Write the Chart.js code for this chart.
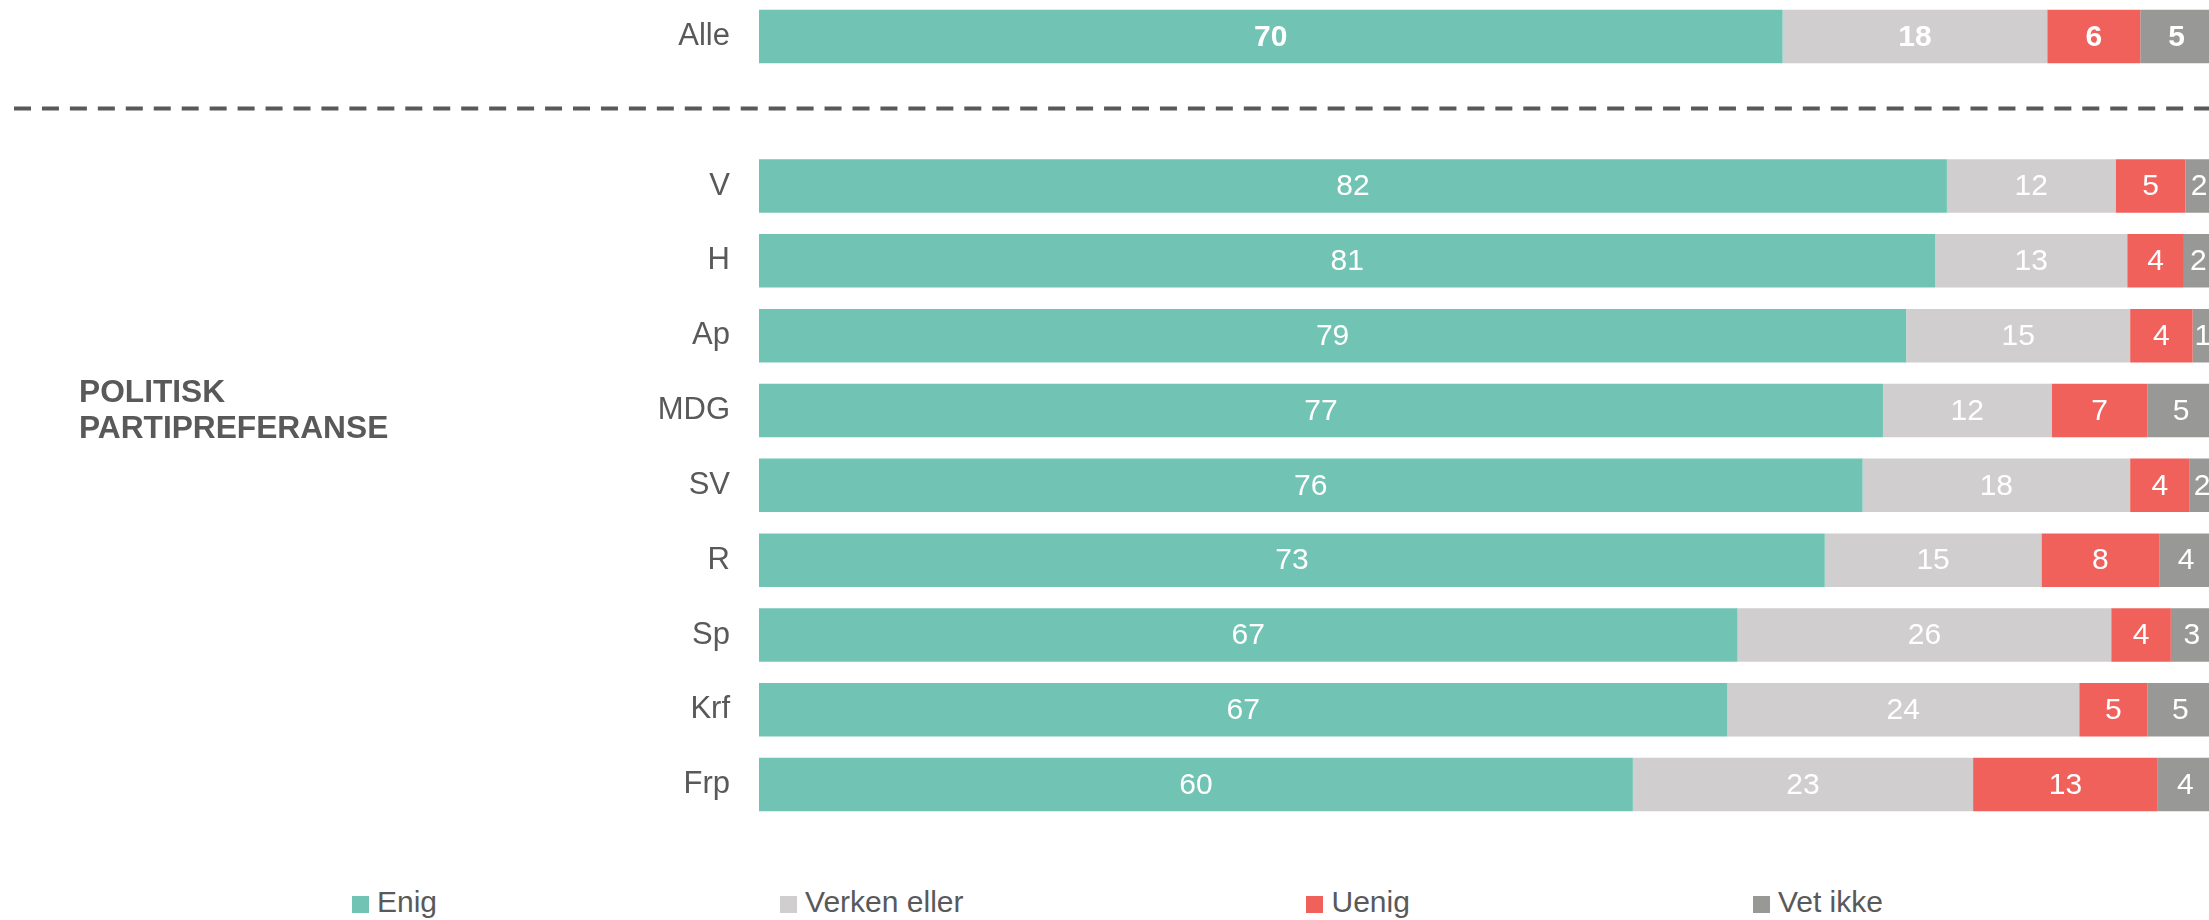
<!DOCTYPE html>
<html><head><meta charset="utf-8">
<script src="https://cdn.jsdelivr.net/npm/chart.js@4.4.1/dist/chart.umd.min.js"></script>
<style>
html,body{margin:0;padding:0;background:#fff;overflow:hidden;width:2209px;height:920px;position:relative;}
#wrap{position:absolute;left:0;top:-1px;width:2213px;height:823px;}
#group{position:absolute;left:79px;top:373px;font:bold 31.7px "Liberation Sans",Arial,sans-serif;line-height:36px;color:#595959;white-space:nowrap;}
#legend{position:absolute;left:352px;top:885px;display:flex;gap:343px;font:30px "Liberation Sans",Arial,sans-serif;line-height:34px;color:#595959;white-space:nowrap;}
.item{display:flex;align-items:center;}
.box{width:17px;height:17px;margin-right:8px;position:relative;top:2px;}
</style></head><body>
<div id="wrap"><canvas id="c"></canvas></div>
<div id="group"></div>
<div id="legend"></div>
<script>
// Categories ('' is the empty separator row)
const categories = ['Alle', '', 'V', 'H', 'Ap', 'MDG', 'SV', 'R', 'Sp', 'Krf', 'Frp'];
const groupLabel = ['POLITISK', 'PARTIPREFERANSE'];
const seriesNames = ['Enig', 'Verken eller', 'Uenig', 'Vet ikke'];
const seriesColors = ['#71C4B4', '#D0CECE', '#F1615C', '#989997'];
// Percentages (labels show rounded values)
const enig    = [70.4, null, 81.7, 80.9, 78.9, 77.3, 75.9, 73.3, 67.3, 66.6, 60.1];
const verken  = [18.2, null, 11.6, 13.2, 15.4, 11.6, 18.4, 14.9, 25.7, 24.2, 23.4];
const uenig   = [6.4,  null, 4.8,  3.9,  4.3,  6.6,  4.1,  8.1,  4.1,  4.7,  12.7];
const vetIkke = [5.0,  null, 1.9,  2.0,  1.4,  4.6,  1.7,  3.7,  2.9,  4.5,  3.8];

const seriesValues = [enig, verken, uenig, vetIkke];
const FONT = '"Liberation Sans", Arial, sans-serif';
const TEXT = '#595959';

const datasets = seriesNames.map((name, i) => ({
  label: name,
  data: seriesValues[i],
  backgroundColor: seriesColors[i],
  borderWidth: 0,
  barPercentage: 0.715,
  categoryPercentage: 1.0
}));

const labelPlugin = {
  id: 'segLabels',
  afterDatasetsDraw(chart) {
    const ctx = chart.ctx;
    ctx.save();
    ctx.textAlign = 'center';
    ctx.textBaseline = 'middle';
    ctx.fillStyle = '#FFFFFF';
    chart.data.datasets.forEach((ds, di) => {
      const meta = chart.getDatasetMeta(di);
      meta.data.forEach((el, idx) => {
        const v = ds.data[idx];
        if (v === null || v === undefined) return;
        const p = el.getProps(['x', 'base', 'y'], true);
        ctx.font = (idx === 0 ? 'bold ' : '') + '30px ' + FONT;
        ctx.fillText(String(Math.round(v)), (p.x + p.base) / 2, p.y + 1);
      });
    });
    ctx.restore();
  }
};

const dashPlugin = {
  id: 'dashLine',
  afterDraw(chart) {
    const ctx = chart.ctx;
    ctx.save();
    ctx.strokeStyle = '#595959';
    ctx.lineWidth = 4;
    ctx.setLineDash([17, 10.95]);
    ctx.beginPath();
    ctx.moveTo(14, 109.5);
    ctx.lineTo(chart.width, 109.5);
    ctx.stroke();
    ctx.restore();
  }
};

const chart = new Chart(document.getElementById('c'), {
  type: 'bar',
  data: { labels: categories, datasets },
  options: {
    indexAxis: 'y',
    responsive: true,
    maintainAspectRatio: false,
    devicePixelRatio: 1,
    animation: false,
    layout: { padding: 0 },
    plugins: { legend: { display: false }, tooltip: { enabled: false } },
    scales: {
      x: { stacked: true, min: 0, max: 100, display: false },
      y: {
        stacked: true,
        grid: { display: false, drawTicks: false },
        border: { display: false },
        ticks: { color: TEXT, font: { family: FONT, size: 31 }, padding: 29 },
        afterFit(scale) {
          scale.width = 759;
          scale.paddingTop = 0;
          scale.paddingBottom = 0;
        }
      }
    }
  },
  plugins: [labelPlugin, dashPlugin]
});

document.getElementById('group').innerHTML = groupLabel.join('<br>');
const legend = document.getElementById('legend');
chart.data.datasets.forEach(ds => {
  const item = document.createElement('div');
  item.className = 'item';
  const box = document.createElement('span');
  box.className = 'box';
  box.style.background = ds.backgroundColor;
  const txt = document.createElement('span');
  txt.textContent = ds.label;
  item.appendChild(box);
  item.appendChild(txt);
  legend.appendChild(item);
});
</script>
</body></html>
